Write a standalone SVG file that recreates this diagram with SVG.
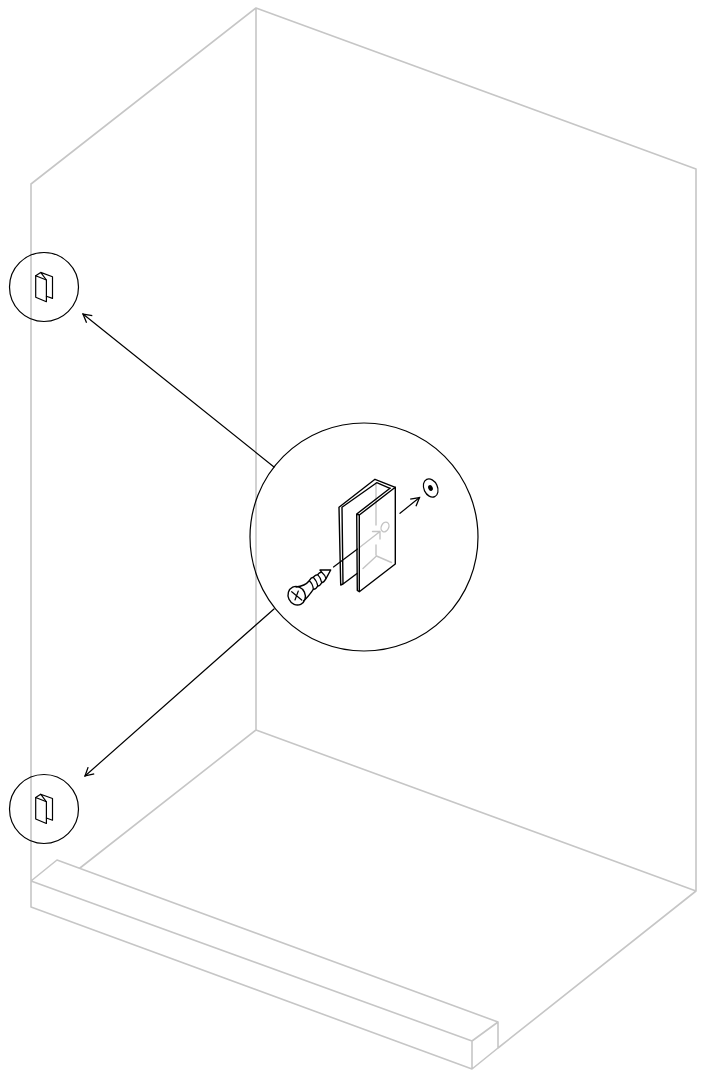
<svg xmlns="http://www.w3.org/2000/svg" width="705" height="1070" viewBox="0 0 705 1070">
<style>
.g{fill:none;stroke:#c6c6c6;stroke-width:1.6;stroke-linejoin:round;stroke-linecap:round}
.k{fill:none;stroke:#000;stroke-width:1.2;stroke-linejoin:round;stroke-linecap:round}
.c{fill:none;stroke:#000;stroke-width:1.2}
.t{fill:none;stroke:#000;stroke-width:1.4;stroke-linejoin:round;stroke-linecap:round}
.gi{fill:none;stroke:#c4c4c4;stroke-width:1.4;stroke-linecap:round;stroke-linejoin:round}
</style>
<defs>
<marker id="a" markerUnits="userSpaceOnUse" markerWidth="11" markerHeight="11" refX="10" refY="6" orient="auto" viewBox="0 0 12 12"><path d="M1 1L10 6L1 11" fill="none" stroke="#000" stroke-width="1.400"/></marker>
<g id="mini">
<path d="M0 0V21.500L10.700 26V4.300Z" class="k"/>
<path d="M0 0L5 -3.300L16.800 1V22.700L10.700 20.500M5 -3.300L10.700 4.300" class="k"/>
</g>
</defs>
<g id="enclosure">
<path class="g" d="M31 184L256 8L696 169V891L498 1048M256 8V730M31 184V907L472 1069L498 1048V1022L57 860L31 881L472 1041L498 1022M472 1041V1069M256 730L696 891M256 730L80 868"/>
</g>
<g id="connectors">
<path class="k" d="M274 467L83 314" marker-end="url(#a)"/>
<path class="k" d="M274 609L85 776" marker-end="url(#a)"/>
<path class="k" d="M400 513.300L419.500 497.500" marker-end="url(#a)"/>
<path class="k" d="M333.500 567L357.500 549"/>
<path class="gi" d="M359.500 547.500L380 531.500M372.500 531.500L380 531.500L380 539"/>
</g>
<g id="detail">
<circle class="c" cx="364" cy="537" r="114"/>
</g>
<g id="top-callout">
<circle class="c" cx="44" cy="287" r="34.500"/>
<use href="#mini" x="35.700" y="275.700"/>
</g>
<g id="bottom-callout">
<circle class="c" cx="44" cy="809" r="34.500"/>
<use href="#mini" x="35.700" y="797.500"/>
</g>
<g id="clip">
<path class="gi" d="M376 483V525M376 545V555M363 568.500L376.500 556L391.500 562.500"/>
<ellipse class="gi" cx="385" cy="527" rx="3.700" ry="5" transform="rotate(25 385 527)"/>
<path class="t" d="M339 507.300L340.700 585L343 584L342 507.300M339 507.300L375 479.300L395.300 487.300M342 507.300L376.700 482.700L390 488.300M343 584L357 573.500"/>
<path class="t" d="M356.700 514L390 488.300M356.700 514L357.300 590.500L359.300 591.700L395.300 564V487.300L359.300 515M356.700 514L359.300 515V591.700"/>
</g>
<g id="washer">
<ellipse class="k" cx="430.700" cy="488" rx="6.800" ry="9.500" transform="rotate(-25 430.700 488)"/>
<ellipse cx="430.500" cy="488" rx="2.200" ry="3" fill="#000" transform="rotate(-25 430.500 488)"/>
</g>
<g id="screw">
<ellipse class="t" cx="296.700" cy="595.700" rx="8.500" ry="9.500" transform="rotate(-25 296.700 595.700)"/>
<path class="k" d="M291.700 591.700L301.700 600M298.300 591L295 600"/>
<path class="t" d="M296 587Q305 586 309.300 580.700Q311 577.500 313.300 577.300Q315.500 574.500 317.700 574.700Q319.500 572 321.700 572.300L320 570H330.700L326 578.700Q324 582.500 321.700 582.700Q320 586 317.700 586Q316 589.500 313.300 589.300Q308 597 303.500 601"/>
<path class="k" d="M309.300 580.700Q313 584 313.300 589.300M313.300 577.300Q317 581 317.700 586M317.700 574.700Q321 578 321.700 582.700M321.700 572.300Q325 575 326 578.700"/>
</g>
</svg>
